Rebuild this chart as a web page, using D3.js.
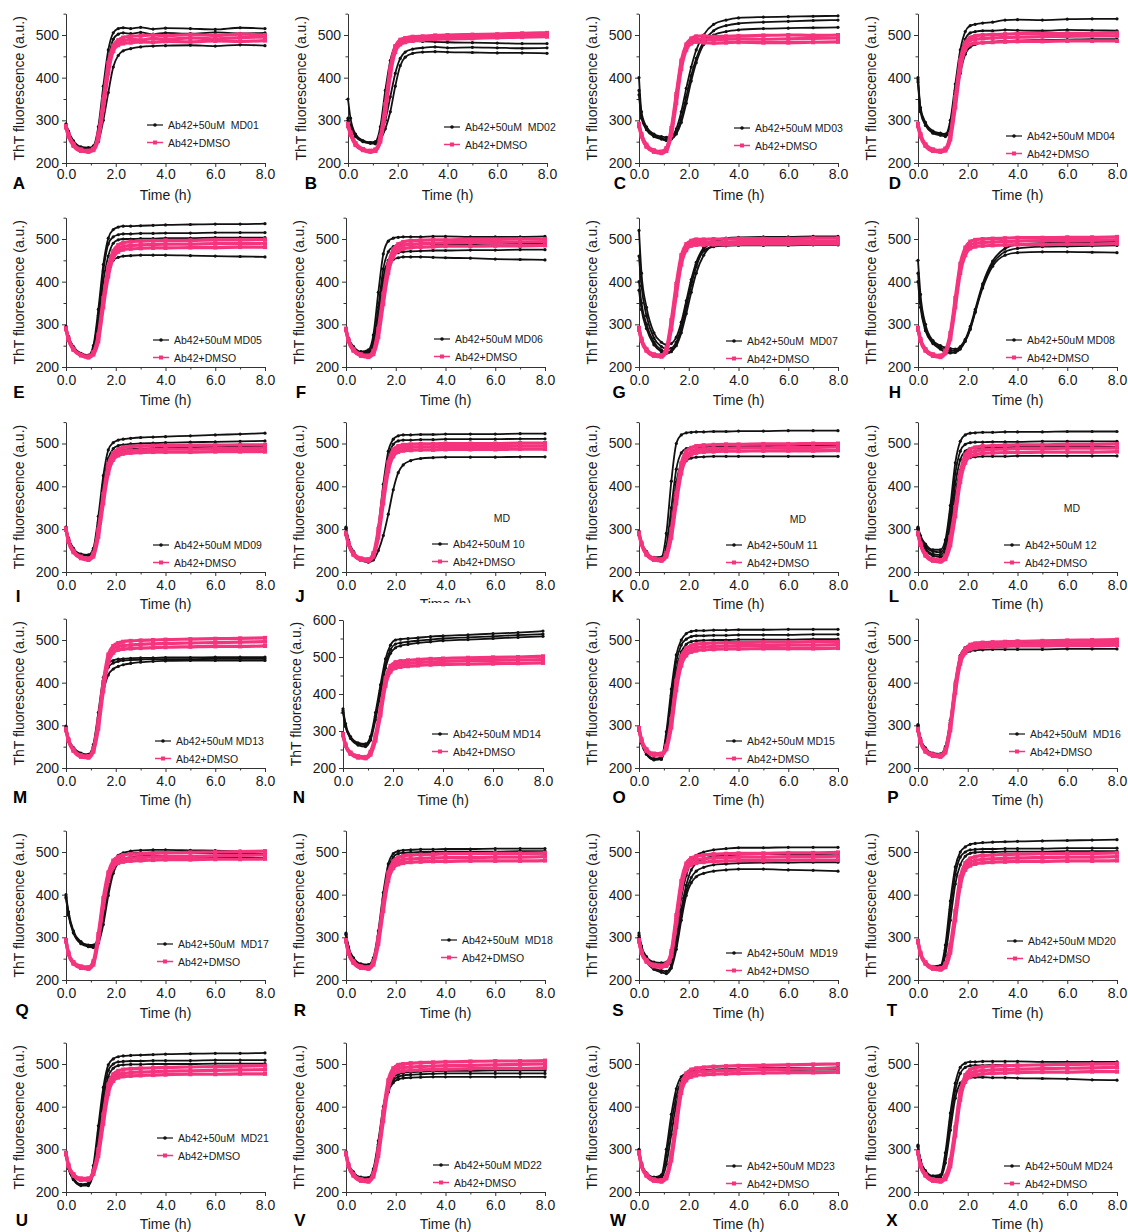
<!DOCTYPE html>
<html>
<head>
<meta charset="utf-8">
<script src="https://cdn.jsdelivr.net/npm/d3@7"></script>
<style>
  body { margin: 0; background: #fff; }
  svg { display: block; font-family: "Liberation Sans", Arial, sans-serif; }
  .leg { white-space: pre; }
</style>
</head>
<body>
<svg id="fig" width="1128" height="1232"></svg>
<script>
// ThT kinetics of Ab42 aggregation, 24 compounds (MD01–MD24) vs DMSO control.
// Sampling times (h) shared by every trace.
const hours = [0, 0.1, 0.3, 0.6, 0.9, 1.1, 1.3, 1.5, 1.7, 1.9, 2.1, 2.3, 2.6, 3.0, 3.5, 4.0, 5.0, 6.0, 7.0, 8.0];

const panelLetters = ["A","B","C","D","E","F","G","H","I","J","K","L","M","N","O","P","Q","R","S","T","U","V","W","X"];
const treatedLabels = [
  "Ab42+50uM  MD01","Ab42+50uM  MD02","Ab42+50uM MD03","Ab42+50uM MD04",
  "Ab42+50uM MD05","Ab42+50uM MD06","Ab42+50uM  MD07","Ab42+50uM MD08",
  "Ab42+50uM MD09","Ab42+50uM 10","Ab42+50uM 11","Ab42+50uM 12",
  "Ab42+50uM MD13","Ab42+50uM MD14","Ab42+50uM MD15","Ab42+50uM  MD16",
  "Ab42+50uM  MD17","Ab42+50uM  MD18","Ab42+50uM  MD19","Ab42+50uM MD20",
  "Ab42+50uM  MD21","Ab42+50uM MD22","Ab42+50uM MD23","Ab42+50uM MD24"];
const controlLabel = "Ab42+DMSO";
const xTickValues = [0, 2, 4, 6, 8];
const yTickValues = [200, 300, 400, 500];
const yTickValuesWide = [200, 300, 400, 500, 600];
const yTop = [550,550,550,550, 550,550,550,550, 550,550,550,550, 550,600,550,550, 550,550,550,550, 550,550,550,550];

// ThT fluorescence (a.u.), one row per replicate well
const treatedMD01 = [
 [292,275,252,238,236,240,285,380,465,505,515,517,515,518,514,516,515,513,517,515],
 [290,272,250,236,234,238,270,350,440,490,502,505,503,506,502,505,503,506,504,505],
 [288,270,248,235,233,236,250,300,365,425,452,463,468,472,474,475,476,474,477,475]];
const controlMD01 = [
 [285,265,242,230,228,232,262,340,425,470,482,486,490,488,492,490,493,491,494,495],
 [283,262,240,228,226,230,255,325,410,462,476,480,482,484,483,485,484,486,485,487],
 [287,268,245,232,229,234,268,350,435,475,488,494,497,498,500,498,501,499,502,500]];

const treatedMD02 = [
 [350,305,268,252,248,250,285,370,440,475,485,487,486,485,484,483,482,481,480,480],
 [300,285,262,250,246,245,255,280,320,380,428,448,457,460,461,460,459,458,458,457],
 [305,288,265,252,248,247,262,300,355,410,445,460,467,470,472,470,471,470,469,470]];
const controlMD02 = [
 [290,270,245,232,228,230,255,325,415,468,484,488,490,492,494,495,496,497,499,500],
 [286,266,242,230,226,228,250,315,405,460,478,483,486,488,490,491,492,494,495,496],
 [292,272,247,233,229,232,262,338,425,474,489,493,496,497,499,500,501,502,504,505]];

const treatedMD03 = [
 [400,320,285,268,262,260,262,280,320,375,425,465,500,525,535,540,542,543,544,545],
 [370,310,280,265,258,255,258,272,305,355,405,445,485,510,522,527,530,532,534,535],
 [360,305,278,262,256,253,256,268,295,340,392,435,478,500,508,512,515,516,517,518]];
const controlMD03 = [
 [290,265,240,228,225,232,275,355,432,472,486,490,490,489,490,491,490,491,492,493],
 [286,262,238,226,223,228,265,340,420,465,480,484,482,481,482,483,482,482,483,484],
 [292,268,243,230,227,235,282,362,440,478,492,497,498,496,497,498,499,500,499,500]];

const treatedMD04 = [
 [400,330,295,275,270,268,300,385,465,508,522,525,528,530,535,536,535,537,538,538],
 [395,325,292,272,268,266,292,370,448,490,505,508,510,510,512,511,510,512,511,510],
 [390,320,288,270,265,262,280,340,410,455,472,478,482,484,486,487,488,489,490,490]];
const controlMD04 = [
 [290,266,242,230,228,232,262,345,432,475,488,490,492,493,494,495,496,497,498,498],
 [286,262,240,228,226,229,255,330,418,465,478,481,482,483,484,485,485,486,486,486],
 [292,268,244,232,229,234,268,355,442,482,494,498,500,501,502,503,503,504,504,505]];

const treatedMD05 = [
 [295,272,248,232,228,250,335,440,502,522,528,530,530,531,532,533,534,535,535,536],
 [294,270,246,230,226,245,320,425,488,505,510,512,512,513,513,514,514,515,515,515],
 [293,268,245,229,225,240,300,400,460,490,498,500,500,501,501,502,502,503,503,503],
 [292,267,244,229,225,238,290,370,425,450,457,460,461,462,462,462,461,460,459,458]];
const controlMD05 = [
 [290,265,242,228,224,232,268,352,425,465,478,482,485,486,487,488,488,489,489,490],
 [288,263,240,227,222,229,260,340,412,455,470,475,477,478,479,479,480,480,481,481],
 [291,267,243,229,225,235,276,362,435,472,486,491,494,495,496,497,497,498,498,499]];

const treatedMD06 = [
 [290,268,248,236,240,275,375,465,495,502,504,505,505,505,506,506,505,505,505,506],
 [290,267,247,235,236,260,340,430,470,482,486,487,487,488,488,488,488,489,489,489],
 [289,266,246,234,234,252,320,410,450,462,468,470,471,472,473,473,474,474,475,475],
 [289,265,245,233,233,250,310,395,440,452,456,458,458,458,457,456,455,453,452,451]];
const controlMD06 = [
 [288,262,240,228,225,235,282,362,432,468,480,485,488,489,490,491,492,492,493,494],
 [286,260,238,226,223,230,270,348,420,458,472,477,480,481,482,483,483,484,484,485],
 [290,264,242,230,227,238,290,372,442,476,488,493,496,497,498,498,499,499,500,500]];

const treatedMD07 = [
 [520,420,340,280,258,252,255,270,305,355,405,445,480,497,502,504,505,505,506,506],
 [460,390,320,268,248,242,244,258,290,340,392,435,475,494,500,502,503,503,504,504],
 [400,350,300,258,240,235,238,250,280,325,375,420,462,485,490,492,493,494,494,495],
 [380,335,290,252,236,232,236,255,292,345,398,440,472,482,484,485,485,485,486,486]];
const controlMD07 = [
 [290,264,240,228,226,240,300,385,452,482,490,492,492,493,493,494,494,495,495,495],
 [287,261,238,226,224,235,288,368,440,474,484,486,486,487,487,488,488,488,489,489],
 [292,266,242,230,228,244,310,395,462,488,496,499,499,500,500,501,501,501,502,502]];

const treatedMD08 = [
 [450,370,300,262,250,245,243,242,248,265,295,335,395,448,478,487,490,492,493,494],
 [420,350,290,258,246,240,238,238,245,262,290,330,390,442,470,478,482,483,484,485],
 [400,340,285,255,242,235,233,234,242,260,288,328,385,436,462,468,470,470,469,468]];
const controlMD08 = [
 [290,264,240,228,225,235,272,352,432,472,486,490,492,493,494,495,496,496,497,498],
 [287,261,238,226,223,232,265,340,420,462,478,482,484,485,486,487,487,488,488,489],
 [292,266,242,230,227,238,280,362,442,480,494,498,500,501,502,503,503,504,504,505]];

const treatedMD09 = [
 [305,280,255,242,240,255,330,425,485,502,508,510,512,514,515,516,518,520,522,524],
 [303,278,254,241,239,250,315,405,465,488,495,497,499,500,501,502,503,504,505,506],
 [302,277,253,240,238,246,300,385,445,472,482,485,487,488,489,490,491,492,493,494]];
const controlMD09 = [
 [300,272,248,234,230,240,292,372,442,470,479,482,484,485,486,487,487,488,488,489],
 [298,270,246,232,228,236,282,360,430,462,472,476,478,479,480,480,480,481,481,481],
 [302,274,250,236,232,244,300,382,452,478,487,491,493,494,495,495,496,496,497,497]];

const treatedMD10 = [
 [305,275,248,230,226,240,305,405,482,510,518,520,520,521,521,522,522,522,523,523],
 [303,273,246,228,224,236,290,385,465,498,506,508,508,509,509,510,510,510,511,511],
 [302,272,245,227,223,228,250,285,335,392,432,450,460,465,467,468,468,468,469,469]];
const controlMD10 = [
 [290,266,242,230,228,240,290,372,446,478,487,490,491,492,492,493,493,493,494,494],
 [288,264,240,228,226,236,280,360,435,470,480,483,484,485,485,486,486,486,487,487],
 [292,268,244,232,230,244,300,385,456,486,494,497,498,499,499,500,500,500,501,501]];

const treatedMD11 = [
 [295,270,248,234,235,290,412,500,520,525,526,527,527,528,528,529,529,530,530,530],
 [294,268,246,232,230,260,350,440,478,488,490,492,492,493,493,494,494,494,495,495],
 [293,267,245,231,229,250,320,410,455,472,478,480,481,482,482,483,483,484,484,484],
 [292,266,244,230,228,245,305,395,440,460,466,468,469,470,470,470,470,470,470,470]];
const controlMD11 = [
 [290,266,242,230,228,240,290,372,442,472,481,485,487,488,489,490,490,491,491,492],
 [288,264,240,228,226,236,280,360,430,464,474,478,480,481,482,482,483,483,483,484],
 [292,268,244,232,230,244,300,384,454,482,490,494,496,497,498,498,499,499,500,500]];

const treatedMD12 = [
 [305,285,265,252,252,275,355,455,505,520,524,525,526,526,527,527,527,528,528,528],
 [303,282,260,248,246,265,335,430,482,498,502,503,503,504,504,504,505,505,505,505],
 [302,280,256,242,240,255,315,405,462,482,488,490,490,491,491,492,492,492,492,492],
 [300,277,252,238,235,245,295,380,438,460,467,469,470,470,470,471,471,471,471,471]];
const controlMD12 = [
 [290,265,240,228,226,234,272,342,422,465,478,482,485,486,487,488,488,489,489,490],
 [288,263,238,226,224,230,262,330,410,455,470,474,477,478,479,479,480,480,480,481],
 [292,267,242,230,228,238,282,352,432,474,487,491,494,495,496,497,497,498,498,499]];

const treatedMD13 = [
 [298,270,248,235,232,255,330,412,446,452,455,456,457,458,458,459,459,460,460,460],
 [296,268,246,233,230,250,318,398,436,446,450,452,453,454,455,455,455,456,456,456],
 [295,267,245,232,229,245,300,378,418,432,438,442,445,448,450,451,452,452,452,452]];
const controlMD13 = [
 [290,265,242,228,226,242,302,392,456,478,485,487,488,490,491,492,493,494,495,496],
 [288,263,240,226,224,238,292,380,446,470,477,479,480,481,482,483,484,485,485,486],
 [292,267,244,230,228,246,312,402,466,486,493,496,498,499,500,501,502,503,504,505]];

const treatedMD14 = [
 [360,320,285,268,265,285,350,425,495,532,546,548,550,552,555,557,560,563,566,570],
 [355,315,282,265,262,280,340,410,480,520,535,538,541,544,547,550,553,556,559,562],
 [350,312,280,262,258,275,330,400,470,510,525,530,534,538,541,544,547,550,553,556]];
const controlMD14 = [
 [290,262,240,230,228,240,282,352,432,468,478,481,483,485,487,488,490,491,492,493],
 [288,260,238,228,226,236,274,342,422,460,470,473,475,477,479,480,481,482,483,484],
 [292,264,242,232,230,244,290,362,442,476,486,489,491,493,495,496,498,499,500,502]];

const treatedMD15 = [
 [290,262,235,222,225,285,385,465,500,515,520,522,522,523,523,524,524,525,525,525],
 [288,260,233,220,222,275,370,450,488,502,508,510,510,511,511,512,512,512,513,513],
 [287,258,232,219,220,265,350,430,472,490,496,498,499,500,500,501,501,501,502,502]];
const controlMD15 = [
 [292,265,242,232,232,248,305,395,452,472,479,482,484,485,486,487,487,488,488,489],
 [290,263,240,230,230,244,295,382,440,464,472,475,477,478,479,479,480,480,480,481],
 [294,267,244,234,234,252,315,405,462,480,487,490,492,493,494,494,495,495,496,496]];

const treatedMD16 = [
 [300,268,245,233,231,245,302,392,456,476,482,484,485,486,486,487,487,488,488,488],
 [298,266,243,231,229,240,292,380,446,468,474,476,477,478,478,478,478,479,479,479],
 [302,270,247,235,233,250,312,402,464,482,488,490,491,492,492,493,493,493,494,494]];
const controlMD16 = [
 [290,262,240,230,228,240,296,386,452,475,483,486,488,489,490,491,492,493,494,495],
 [288,260,238,228,226,236,288,376,444,470,478,481,483,484,485,486,486,487,487,488],
 [292,264,242,232,230,244,304,396,460,480,489,492,494,495,496,497,498,499,500,501]];

const treatedMD17 = [
 [400,360,315,290,282,282,300,355,425,472,492,498,502,504,505,505,504,503,502,502],
 [395,355,312,287,280,278,292,340,410,462,485,492,496,498,499,499,498,497,496,495],
 [392,352,310,285,278,276,286,330,398,450,475,484,488,490,490,490,489,488,487,486]];
const controlMD17 = [
 [292,262,240,230,228,240,300,382,442,472,481,484,486,487,488,489,490,491,492,493],
 [290,260,238,228,226,236,292,370,432,464,474,477,479,480,481,482,482,483,483,484],
 [294,264,242,232,230,244,308,392,452,480,489,493,495,496,497,498,499,500,501,502]];

const treatedMD18 = [
 [310,278,252,238,236,252,315,405,472,496,502,504,505,506,506,507,507,508,508,508],
 [308,276,250,236,234,248,302,390,460,488,496,498,499,500,500,501,501,501,502,502],
 [306,274,248,234,232,244,290,372,445,478,488,491,493,494,494,495,495,495,496,496]];
const controlMD18 = [
 [292,264,242,230,228,240,292,372,442,470,479,482,484,485,486,487,487,488,488,489],
 [290,262,240,228,226,236,284,362,432,462,471,474,476,477,478,478,479,479,479,480],
 [294,266,244,232,230,244,300,382,452,478,487,491,493,494,495,496,496,497,497,498]];

const treatedMD19 = [
 [310,280,255,242,240,242,262,320,392,445,478,492,500,505,508,510,510,511,511,511],
 [305,275,250,236,232,232,248,295,365,422,458,474,484,490,492,494,495,495,495,496],
 [300,270,245,228,222,220,235,280,350,408,440,455,464,470,472,474,475,475,476,476],
 [298,268,242,225,218,215,228,272,340,398,428,442,450,455,458,460,460,458,457,455]];
const controlMD19 = [
 [292,265,245,234,232,236,262,342,422,465,478,482,484,486,487,488,488,489,489,490],
 [290,263,243,232,230,233,256,332,412,457,470,474,476,478,479,480,480,481,481,481],
 [294,267,247,236,234,239,268,352,432,473,486,490,493,495,496,497,497,498,498,499]];

const treatedMD20 = [
 [292,265,242,232,234,282,385,465,500,512,518,520,522,523,524,525,526,527,528,529],
 [290,263,240,230,231,270,365,448,488,500,505,506,507,507,508,508,508,509,509,509],
 [289,262,239,229,229,258,340,425,470,490,497,499,500,500,501,501,501,502,502,502]];
const controlMD20 = [
 [290,262,240,228,226,234,272,352,432,466,476,480,483,484,485,486,487,488,488,489],
 [288,260,238,226,224,230,264,340,420,458,468,472,475,476,477,478,478,479,479,480],
 [292,264,242,230,228,238,282,362,442,474,485,489,492,493,494,495,496,497,497,498]];

const treatedMD21 = [
 [290,258,232,218,220,262,355,445,498,512,517,519,520,521,522,523,524,525,525,526],
 [288,256,230,216,217,252,338,428,485,500,505,506,507,507,508,508,508,509,509,509],
 [287,255,229,215,215,245,325,412,470,490,496,498,499,499,500,500,500,501,501,501]];
const controlMD21 = [
 [290,262,240,230,230,246,292,372,442,468,476,478,480,481,482,483,484,485,486,487],
 [288,260,238,228,228,242,284,360,430,460,468,471,472,473,474,475,476,476,477,477],
 [292,264,242,232,232,250,300,382,452,476,484,487,489,490,491,492,493,494,495,496]];

const treatedMD22 = [
 [292,265,245,233,232,250,312,392,442,462,470,473,475,476,477,478,478,478,478,478],
 [290,263,243,231,230,246,304,382,434,456,464,467,468,469,470,470,470,470,470,470],
 [294,267,247,235,234,254,320,400,450,468,476,479,481,482,483,484,484,485,485,485]];
const controlMD22 = [
 [290,262,240,228,226,240,292,378,452,482,490,492,493,494,495,496,497,498,499,500],
 [288,260,238,226,224,236,284,366,442,474,482,484,485,486,487,488,489,490,490,491],
 [292,264,242,230,228,244,300,388,462,490,498,500,502,503,504,505,506,507,507,508]];

const treatedMD23 = [
 [300,268,245,235,240,300,382,442,470,478,482,484,486,487,488,489,490,491,491,492],
 [298,266,243,233,236,285,360,425,460,472,477,480,482,483,484,485,486,486,487,487],
 [296,264,241,231,232,265,335,405,448,468,476,480,483,485,486,487,488,489,490,490]];
const controlMD23 = [
 [292,262,240,228,226,236,282,362,442,470,478,481,483,484,485,486,487,488,489,490],
 [290,260,238,226,224,232,274,352,432,462,470,473,475,476,477,478,479,480,480,481],
 [294,264,242,230,228,240,290,372,452,478,487,490,492,494,495,496,497,498,499,500]];

const treatedMD24 = [
 [310,275,250,238,240,292,385,455,492,502,505,505,506,506,506,506,505,505,505,505],
 [308,273,248,236,237,278,365,438,478,492,496,497,497,498,498,498,498,498,499,499],
 [306,271,246,234,234,268,345,420,455,465,468,469,469,468,468,467,466,465,463,462]];
const controlMD24 = [
 [292,262,240,228,226,234,267,342,427,466,478,482,485,486,487,488,489,490,491,492],
 [290,260,238,226,224,230,260,332,416,458,470,474,477,478,479,480,481,481,482,482],
 [294,264,242,230,228,238,275,352,437,474,487,491,494,495,496,497,498,499,500,501]];

const treatedSets = [treatedMD01,treatedMD02,treatedMD03,treatedMD04,treatedMD05,treatedMD06,
  treatedMD07,treatedMD08,treatedMD09,treatedMD10,treatedMD11,treatedMD12,treatedMD13,treatedMD14,
  treatedMD15,treatedMD16,treatedMD17,treatedMD18,treatedMD19,treatedMD20,treatedMD21,treatedMD22,
  treatedMD23,treatedMD24];
const controlSets = [controlMD01,controlMD02,controlMD03,controlMD04,controlMD05,controlMD06,
  controlMD07,controlMD08,controlMD09,controlMD10,controlMD11,controlMD12,controlMD13,controlMD14,
  controlMD15,controlMD16,controlMD17,controlMD18,controlMD19,controlMD20,controlMD21,controlMD22,
  controlMD23,controlMD24];

// ---------- layout ----------
const colX = [[66, 265], [346, 545], [639, 838], [918, 1117]];        // pixel of t=0 and t=8
const rowY = [[163, 35], [367, 239], [572, 443.5], [768, 640], [980, 852], [1192, 1064]]; // pixel of 200 and 500
const rowText = [
  { tick: 174, title: 195, letter: 183 },
  { tick: 380, title: 400, letter: 392 },
  { tick: 585, title: 604, letter: 596 },
  { tick: 781, title: 800, letter: 797 },
  { tick: 993, title: 1013, letter: 1010 },
  { tick: 1205, title: 1224, letter: 1220 }];
const xOverride = { B: [348, 547], N: [343, 543] };
const letterX = { A: 19, B: 311, C: 620, D: 895, E: 19, F: 301, G: 619, H: 895,
  I: 18, J: 300, K: 618, L: 894, M: 20, N: 299, O: 619, P: 893,
  Q: 22, R: 300, S: 618, T: 892, U: 22, V: 300, W: 618, X: 892 };
const legendAt = { A: [168,125], B: [465,127], C: [755,128], D: [1027,136],
  E: [174,340], F: [455,339], G: [747,341], H: [1027,340],
  I: [174,545], J: [453,544], K: [747,545], L: [1025,545],
  M: [176,741], N: [453,734], O: [747,741], P: [1030,734],
  Q: [178,944], R: [462,940], S: [747,953], T: [1028,941],
  U: [178,1138], V: [454,1165], W: [747,1166], X: [1025,1166] };
const extraLabel = { J: [502, 518], K: [798, 519], L: [1072, 508] };

const BLACK = "#111111", PINK = "#f5347e", AXIS = "#333333", TEXT = "#1a1a1a";

const svg = d3.select("#fig");
svg.append("rect").attr("width", 1128).attr("height", 1232).attr("fill", "#fff");

// clip for the x-title of panel J, which runs under the panel below it
const defs = svg.append("defs");
defs.append("clipPath").attr("id", "clipJ").append("rect")
  .attr("x", 300).attr("y", 560).attr("width", 300).attr("height", 43);

panelLetters.forEach((id, i) => {
  const col = i % 4, row = Math.floor(i / 4);
  const [x0, x8] = xOverride[id] || colX[col];
  const [y200, y500] = rowY[row];
  const top = yTop[i];
  const k = (y200 - y500) / 300;
  const x = d3.scaleLinear().domain([0, 8]).range([x0, x8]);
  let y;
  if (top === 600) y = d3.scaleLinear().domain([200, 600]).range([768, 620]);
  else y = d3.scaleLinear().domain([200, top]).range([y200, y200 - (top - 200) * k]);
  const tt = rowText[row];

  const g = svg.append("g").attr("class", "panel-" + id);

  // x axis
  const xa = g.append("g").attr("transform", `translate(0,${y(200)})`)
    .call(d3.axisBottom(x).tickValues(xTickValues).tickFormat(d3.format(".1f"))
      .tickSize(4).tickSizeOuter(0).tickPadding(2));
  xa.append("g").call(d3.axisBottom(x).tickValues([1, 3, 5, 7]).tickFormat("").tickSize(2.5).tickSizeOuter(0))
    .select(".domain").remove();
  xa.selectAll("text").attr("dy", null)
    .attr("y", tt.tick - y(200)).attr("dominant-baseline", "central")
    .attr("font-size", 14).attr("fill", TEXT).attr("font-family", "Liberation Sans, Arial, sans-serif");

  // y axis
  const yTicks = top === 600 ? yTickValuesWide : yTickValues;
  const minorY = [250, 350, 450, 550];
  const ya = g.append("g").attr("transform", `translate(${x0},0)`)
    .call(d3.axisLeft(y).tickValues(yTicks).tickFormat(d3.format("d"))
      .tickSize(4).tickSizeOuter(0).tickPadding(3));
  ya.append("g").call(d3.axisLeft(y).tickValues(minorY).tickFormat("").tickSize(2.5).tickSizeOuter(0))
    .select(".domain").remove();
  ya.selectAll("text").attr("font-size", 14).attr("fill", TEXT)
    .attr("font-family", "Liberation Sans, Arial, sans-serif");
  g.selectAll(".domain, .tick line").attr("stroke", AXIS).attr("stroke-width", 1);

  // axis titles
  const title = g.append("text").attr("x", (x0 + x8) / 2).attr("y", tt.title)
    .attr("text-anchor", "middle").attr("dominant-baseline", "central")
    .attr("font-size", 14).attr("fill", TEXT).text("Time (h)");
  if (id === "J") title.attr("clip-path", "url(#clipJ)");
  const ymid = (y(200) + y(top)) / 2;
  g.append("text").attr("transform", `translate(${x0 - 47},${ymid}) rotate(-90)`)
    .attr("text-anchor", "middle").attr("dominant-baseline", "central")
    .attr("font-size", 14).attr("fill", TEXT).text("ThT fluorescence (a.u.)");

  // panel letter
  g.append("text").attr("x", letterX[id]).attr("y", tt.letter)
    .attr("text-anchor", "middle").attr("dominant-baseline", "central")
    .attr("font-size", 17).attr("font-weight", "bold").attr("fill", "#000").text(id);

  // traces
  const line = d3.line().x((d, j) => x(hours[j])).y(d => y(d)).curve(d3.curveMonotoneX);
  const tr = g.append("g");
  treatedSets[i].forEach(s => {
    tr.append("path").attr("d", line(s)).attr("fill", "none")
      .attr("stroke", BLACK).attr("stroke-width", 1.8);
    tr.selectAll(null).data(s).enter().append("circle")
      .attr("cx", (d, j) => x(hours[j])).attr("cy", d => y(d)).attr("r", 1.6).attr("fill", BLACK);
  });
  controlSets[i].forEach(s => {
    tr.append("path").attr("d", line(s)).attr("fill", "none")
      .attr("stroke", PINK).attr("stroke-width", 3.2);
    tr.selectAll(null).data(s).enter().append("rect")
      .attr("x", (d, j) => x(hours[j]) - 2).attr("y", d => y(d) - 2)
      .attr("width", 4).attr("height", 4).attr("fill", PINK);
  });

  // legend
  const [lx, ly] = legendAt[id];
  const leg = g.append("g");
  [[treatedLabels[i], BLACK, 0], [controlLabel, PINK, 17.5]].forEach(([lab, c, dy]) => {
    leg.append("line").attr("x1", lx - 21).attr("x2", lx - 5).attr("y1", ly + dy).attr("y2", ly + dy)
      .attr("stroke", c).attr("stroke-width", c === PINK ? 1.5 : 1.2);
    if (c === PINK) leg.append("rect").attr("x", lx - 15).attr("y", ly + dy - 2).attr("width", 4).attr("height", 4).attr("fill", c);
    else leg.append("circle").attr("cx", lx - 13).attr("cy", ly + dy).attr("r", 1.8).attr("fill", c);
    leg.append("text").attr("class", "leg").attr("x", lx).attr("y", ly + dy)
      .attr("dominant-baseline", "central").attr("font-size", 10.5).attr("fill", TEXT).text(lab);
  });
  if (extraLabel[id]) {
    g.append("text").attr("x", extraLabel[id][0]).attr("y", extraLabel[id][1])
      .attr("text-anchor", "middle").attr("dominant-baseline", "central")
      .attr("font-size", 10.5).attr("fill", TEXT).text("MD");
  }
});
</script>
</body>
</html>
